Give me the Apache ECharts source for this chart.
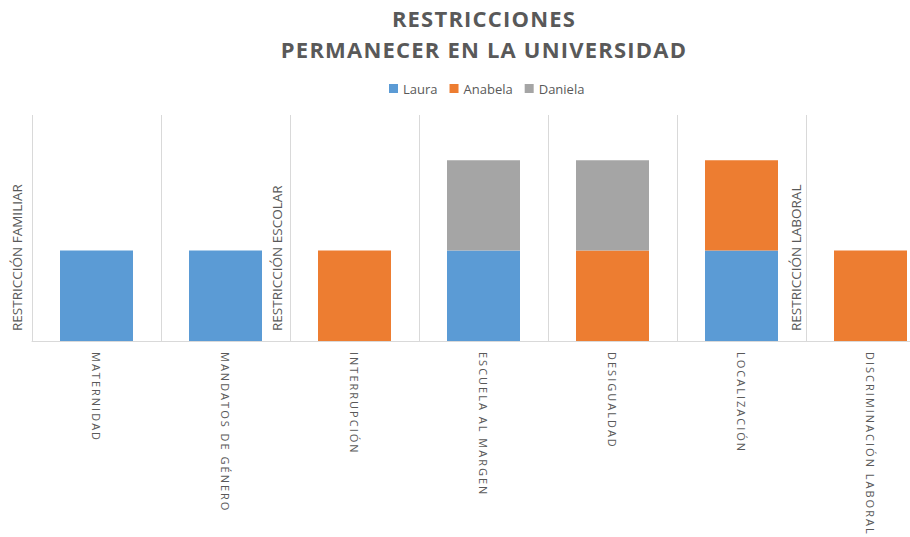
<!DOCTYPE html>
<html>
<head>
<meta charset="utf-8">
<script src="https://cdn.jsdelivr.net/npm/echarts@6/dist/echarts.min.js"></script>
<style>
  html, body { margin: 0; padding: 0; background: #fff; }
  #chart { width: 910px; height: 537px; }
  /* espaciado de letras para etiquetas de categoria y titulo */
  #chart text[style*="11px"] { letter-spacing: 2px; }
  #chart text[style*="22px"] { letter-spacing: 1.2px; }
</style>
</head>
<body>
<div id="chart"></div>
<script>
const categories = ["MATERNIDAD", "MANDATOS DE GÉNERO", "INTERRUPCIÓN", "ESCUELA AL MARGEN", "DESIGUALDAD", "LOCALIZACIÓN", "DISCRIMINACIÓN LABORAL"];
const laura = [1, 1, 0, 1, 0, 1, 0];
const anabela = [0, 0, 1, 0, 1, 1, 1];
const daniela = [0, 0, 0, 1, 1, 0, 0];
const groupLabels = ["RESTRICCIÓN FAMILIAR", "RESTRICCIÓN ESCOLAR", "RESTRICCIÓN LABORAL"];

const chart = echarts.init(document.getElementById("chart"), null, { renderer: "svg" });

const textColor = "#595959";
const font = "'Open Sans', sans-serif";

function serie(name, data, color) {
  return {
    name: name,
    type: "bar",
    stack: "total",
    barWidth: 73,
    data: data.map(v => (v === 0 ? "-" : v)),
    itemStyle: { color: color }
  };
}

const option = {
  animation: false,
  title: {
    text: "RESTRICCIONES\nPERMANECER EN LA UNIVERSIDAD",
    left: 484,
    textAlign: "center",
    top: 2,
    padding: 0,
    textStyle: { fontFamily: font, fontSize: 22, fontWeight: "bold", color: textColor, lineHeight: 31 }
  },
  legend: {
    top: 77,
    left: 384,
    itemWidth: 9,
    itemHeight: 9,
    itemGap: 12,
    icon: "rect",
    textStyle: { fontFamily: font, fontSize: 13, color: textColor }
  },
  // el area de trazado se sale por la derecha, como en el original
  grid: { left: 32, top: 115, width: 903, height: 226, outerBoundsMode: "none" },
  xAxis: {
    type: "category",
    data: categories,
    axisLine: { lineStyle: { color: "#d9d9d9" } },
    axisTick: { show: false },
    splitLine: { show: true, lineStyle: { color: "#d9d9d9" } },
    axisLabel: { rotate: -90, margin: 11, fontFamily: font, fontSize: 11, color: textColor, interval: 0 }
  },
  yAxis: {
    type: "value",
    min: 0,
    max: 2.5,
    show: false
  },
  graphic: [
    { x: 17, y: 331, label: groupLabels[0] },
    { x: 277, y: 331, label: groupLabels[1] },
    { x: 796, y: 331, label: groupLabels[2] }
  ].map(g => ({
    type: "text",
    x: g.x,
    y: g.y,
    rotation: Math.PI / 2,
    style: { text: g.label, fontFamily: font, fontSize: 13.5, fill: textColor, textAlign: "left", textVerticalAlign: "middle" }
  })),
  series: [
    serie("Laura", laura, "#5B9BD5"),
    serie("Anabela", anabela, "#ED7D31"),
    serie("Daniela", daniela, "#A5A5A5")
  ]
};

chart.setOption(option);
</script>
</body>
</html>
